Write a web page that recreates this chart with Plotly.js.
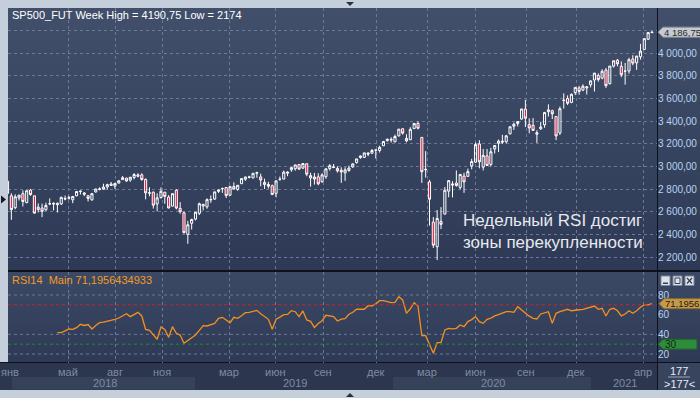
<!DOCTYPE html>
<html><head><meta charset="utf-8">
<script src="https://cdn.plot.ly/plotly-3.0.1.min.js"></script>
<style>
html,body{margin:0;padding:0;background:#c5cfdb;}
#wrap{position:relative;width:700px;height:398px;overflow:hidden;background:#c5cfdb;}
.bg{position:absolute;}
#chart{position:absolute;left:0;top:0;width:700px;height:398px;}
</style></head><body>
<div id="wrap">
 <div class="bg" style="left:8px;top:8px;width:692px;height:262px;background:linear-gradient(#414f6b,#2e3a55);"></div>
 <div class="bg" style="left:8px;top:270px;width:692px;height:2px;background:#0c111c;"></div>
 <div class="bg" style="left:8px;top:272px;width:692px;height:91px;background:linear-gradient(#3c4965,#2e3a55);"></div>
 <div class="bg" style="left:0;top:362px;width:700px;height:1px;background:#0c111c;"></div>
 <div class="bg" style="left:0;top:363px;width:657px;height:27px;background:#2c374f;"></div>
 <div class="bg" style="left:658px;top:363px;width:42px;height:27px;background:#38445e;"></div>
 <div class="bg" style="left:657px;top:8px;width:1px;height:382px;background:#0c111c;"></div>
 <div id="chart"></div>
</div>
<script>
const dates = [
'2018-01-22','2018-01-29','2018-02-05','2018-02-12','2018-02-19','2018-02-26','2018-03-05','2018-03-12','2018-03-19','2018-03-26',
'2018-04-02','2018-04-09','2018-04-16','2018-04-23','2018-04-30','2018-05-07','2018-05-14','2018-05-21','2018-05-28','2018-06-04',
'2018-06-11','2018-06-18','2018-06-25','2018-07-02','2018-07-09','2018-07-16','2018-07-23','2018-07-30','2018-08-06','2018-08-13',
'2018-08-20','2018-08-27','2018-09-03','2018-09-10','2018-09-17','2018-09-24','2018-10-01','2018-10-08','2018-10-15','2018-10-22',
'2018-10-29','2018-11-05','2018-11-12','2018-11-19','2018-11-26','2018-12-03','2018-12-10','2018-12-17','2018-12-24','2018-12-31',
'2019-01-07','2019-01-14','2019-01-21','2019-01-28','2019-02-04','2019-02-11','2019-02-18','2019-02-25','2019-03-04','2019-03-11',
'2019-03-18','2019-03-25','2019-04-01','2019-04-08','2019-04-15','2019-04-22','2019-04-29','2019-05-06','2019-05-13','2019-05-20',
'2019-05-27','2019-06-03','2019-06-10','2019-06-17','2019-06-24','2019-07-01','2019-07-08','2019-07-15','2019-07-22','2019-07-29',
'2019-08-05','2019-08-12','2019-08-19','2019-08-26','2019-09-02','2019-09-09','2019-09-16','2019-09-23','2019-09-30','2019-10-07',
'2019-10-14','2019-10-21','2019-10-28','2019-11-04','2019-11-11','2019-11-18','2019-11-25','2019-12-02','2019-12-09','2019-12-16',
'2019-12-23','2019-12-30','2020-01-06','2020-01-13','2020-01-20','2020-01-27','2020-02-03','2020-02-10','2020-02-17','2020-02-24',
'2020-03-02','2020-03-09','2020-03-16','2020-03-23','2020-03-30','2020-04-06','2020-04-13','2020-04-20','2020-04-27','2020-05-04',
'2020-05-11','2020-05-18','2020-05-25','2020-06-01','2020-06-08','2020-06-15','2020-06-22','2020-06-29','2020-07-06','2020-07-13',
'2020-07-20','2020-07-27','2020-08-03','2020-08-10','2020-08-17','2020-08-24','2020-08-31','2020-09-07','2020-09-14','2020-09-21',
'2020-09-28','2020-10-05','2020-10-12','2020-10-19','2020-10-26','2020-11-02','2020-11-09','2020-11-16','2020-11-23','2020-11-30',
'2020-12-07','2020-12-14','2020-12-21','2020-12-28','2021-01-04','2021-01-11','2021-01-18','2021-01-25','2021-02-01','2021-02-08',
'2021-02-15','2021-02-22','2021-03-01','2021-03-08','2021-03-15','2021-03-22','2021-03-29','2021-04-05','2021-04-12','2021-04-19'];

const openP = [
2810,2870,2741,2636,2722,2760,2681,2791,2741,2619,
2633,2617,2670,2675,2675,2669,2718,2725,2706,2741,
2783,2766,2742,2705,2775,2798,2800,2819,2845,2827,
2853,2884,2897,2880,2903,2926,2926,2886,2764,2773,
2669,2726,2773,2730,2650,2790,2630,2591,2400,2498,
2535,2586,2651,2644,2705,2712,2780,2805,2814,2747,
2823,2798,2848,2888,2908,2898,2940,2908,2840,2841,
2830,2763,2886,2889,2951,2971,2980,3017,2986,3024,
2898,2907,2908,2866,2910,2981,2996,2983,2967,2944,
2965,2996,3035,3079,3080,3118,3117,3143,3141,3183,
3227,3240,3218,3271,3333,3248,3236,3335,3380,3257,
2975,2864,2509,2291,2515,2579,2782,2846,2854,2815,
2915,2913,3005,3038,3199,2994,3094,3018,3155,3205,
3224,3219,3288,3356,3380,3419,3507,3370,3363,3285,
3333,3368,3500,3493,3441,3296,3583,3600,3566,3653,
3694,3675,3694,3723,3764,3803,3781,3851,3731,3886,
3939,3885,3842,3844,3949,3916,3969,4034,4124,4183];

const highP = [
2878,2872,2763,2754,2747,2789,2786,2802,2742,2674,
2672,2680,2718,2683,2682,2732,2743,2742,2740,2779,
2789,2774,2743,2760,2804,2816,2848,2848,2863,2855,
2877,2916,2900,2908,2941,2940,2940,2894,2816,2779,
2763,2815,2775,2747,2760,2800,2685,2601,2520,2538,
2598,2681,2671,2718,2744,2776,2794,2814,2817,2830,
2860,2836,2893,2910,2918,2940,2954,2937,2892,2865,
2840,2876,2911,2964,2958,2996,3014,3018,3028,3027,
2945,2943,2939,2940,2985,3021,3022,3002,2993,2993,
3008,3027,3067,3097,3121,3127,3154,3150,3183,3226,
3247,3258,3282,3330,3337,3285,3347,3385,3397,3259,
3136,2882,2553,2615,2641,2818,2879,2870,2965,2934,
2945,2981,3068,3211,3233,3155,3155,3165,3187,3238,
3280,3279,3352,3387,3399,3509,3588,3425,3428,3320,
3394,3482,3549,3502,3441,3529,3646,3628,3644,3699,
3712,3726,3711,3760,3826,3823,3859,3870,3887,3934,
3950,3928,3915,3960,3983,3978,4083,4129,4188,4190.75];

const lowP = [
2805,2759,2529,2622,2700,2647,2675,2741,2585,2594,
2553,2610,2660,2612,2594,2660,2701,2707,2676,2737,
2753,2738,2691,2698,2770,2789,2795,2795,2830,2802,
2852,2884,2864,2865,2886,2904,2874,2710,2737,2628,
2604,2716,2670,2631,2649,2621,2583,2408,2317,2443,
2524,2571,2612,2627,2679,2705,2766,2767,2722,2739,
2800,2785,2848,2873,2895,2898,2900,2825,2801,2805,
2750,2728,2874,2887,2914,2953,2963,2970,2977,2914,
2822,2840,2834,2856,2891,2964,2985,2946,2855,2873,
2953,2989,3025,3068,3078,3091,3114,3070,3123,3183,
3222,3212,3214,3264,3281,3214,3234,3332,3328,2855,
2902,2478,2280,2174,2447,2579,2728,2727,2822,2798,
2767,2910,2975,3031,2984,2965,3004,3000,3115,3127,
3200,3204,3284,3323,3354,3414,3349,3293,3313,3209,
3323,3342,3441,3419,3233,3279,3511,3543,3559,3631,
3634,3665,3636,3699,3662,3749,3770,3694,3725,3874,
3885,3789,3723,3820,3894,3853,3944,4034,4118,4178];

const closeP = [
2873,2762,2619,2732,2747,2691,2786,2752,2588,2641,
2604,2656,2670,2669,2663,2728,2713,2721,2735,2779,
2779,2755,2718,2760,2801,2802,2818,2840,2833,2850,
2874,2901,2872,2905,2929,2914,2885,2767,2767,2658,
2723,2781,2736,2633,2760,2633,2600,2416,2485,2532,
2596,2671,2665,2707,2708,2776,2793,2804,2743,2822,
2800,2834,2893,2907,2905,2940,2946,2881,2860,2826,
2752,2873,2887,2950,2942,2990,3014,2977,3026,2932,
2919,2889,2847,2926,2979,3007,2992,2961,2952,2970,
2986,3023,3067,3093,3120,3110,3141,3146,3169,3221,
3240,3235,3265,3330,3295,3226,3328,3380,3338,2954,
2972,2711,2305,2541,2489,2790,2875,2837,2831,2930,
2864,2955,3044,3194,3041,3098,3009,3130,3185,3224,
3216,3271,3351,3373,3397,3508,3427,3341,3319,3298,
3348,3477,3484,3465,3270,3510,3585,3558,3638,3699,
3663,3709,3703,3756,3825,3768,3841,3714,3887,3934,
3907,3811,3842,3943,3913,3975,4019,4129,4183,4186.75];

// RSI(14) weekly, from the 15th bar on
const rsiValues = [
41.7,41.7,43.5,45.4,45,46.8,50.2,49,50,45.4,
49,51.9,52.5,53.2,54.5,55.3,56.6,59,61,58,
60.5,62.4,58.7,45,44,39,35,47.5,45,37,
47.8,41,39.3,30.9,33.5,36,39.3,44,48.8,48.5,
50,51.2,56.3,57.3,54.5,51.8,57.3,56.3,59,62,
62.3,63.5,64.4,61,58,55.3,45.1,55.3,57.5,60,
60.3,64,63,58,63.8,54.6,53.2,47.1,51,53.9,
59.4,58.5,58,53.6,55.5,56,60.4,62.5,65.5,65.5,
65.5,69.1,69.1,71,74.2,74.2,73,72.2,72.5,78.3,
75,61.4,66,72.2,68.8,38.6,38.6,30,20.7,31.5,
31.5,44.4,46.1,45.5,46.1,49.5,47.8,53,55,58,
52.9,51.2,55.3,56.5,58.7,60,61.4,63,63,62.4,
68.1,65,61.4,58.5,56.3,55.6,60.7,61.5,63,51.2,
61.4,63,64.5,65.5,64,64.8,65,65.5,66.5,67.5,
68.8,65.5,66.5,58.7,65.5,66.5,64,58.7,60.7,64,
61.4,64,67.5,69.9,69.9,71.2];
const rsiDates = dates.slice(dates.length - rsiValues.length);

const priceTicks = [2200,2400,2600,2800,3000,3200,3400,3600,3800,4000,4200];
const priceTickText = ['2 200,00','2 400,00','2 600,00','2 800,00','3 000,00','3 200,00','3 400,00','3 600,00','3 800,00','4 000,00',''];
const rsiTicks = [20,40,60,80];
const monthLabels = ['янв','май','авг','ноя','мар','июн','сен','дек','мар','июн','сен','дек','апр'];
const yearLabels = ['2018','2019','2020','2021'];
const lastPrice = 4186.75, lastRsi = 71.1956, rsiOver = 70, rsiUnder = 30;

// ---- layout geometry (pixels) ----
const W=700,H=398;
const px = x => x/W, py = y => (H-y)/H;
const PL=8, PR=657, MT=8, MB=269.5, RT=272, RB=363;
const t0 = Date.UTC(2018,0,22);
const msPerPx = 7*86400000/3.836, x0px = 3.7;
const pxDate = x => new Date(t0 + (x-x0px)*msPerPx).toISOString().slice(0,19).replace('T',' ');
const xRange = [pxDate(PL), pxDate(PR)];
const monthPx = [9.5,68,115,162,229,275,323,376,427,475,526,576,643];
const gridDates = monthPx.slice(1).map(pxDate);
const yearPx = [105,295,493,625];

const GRID='#6c7a96';
const axisFont = {family:'Liberation Sans, Arial, sans-serif', size:10, color:'#b9d3f2'};

const traces = [
 {type:'candlestick', x:dates, open:openP, high:highP, low:lowP, close:closeP,
  xaxis:'x', yaxis:'y', whiskerwidth:0, hoverinfo:'skip',
  increasing:{line:{color:'#ffffff',width:1}, fillcolor:'rgba(0,0,0,0)'},
  decreasing:{line:{color:'#ffffff',width:1}, fillcolor:'#e3173c'}},
 {type:'scatter', mode:'lines', x:rsiDates, y:rsiValues, xaxis:'x2', yaxis:'y2',
  line:{color:'#f5901e', width:1.3}, hoverinfo:'skip'}
];

const shapes = [];
const annotations = [];
[20,40,80].forEach(v=>shapes.push({type:'line',xref:'paper',yref:'y2',x0:px(PL),x1:px(PR),y0:v,y1:v,line:{color:GRID,width:1,dash:'3px,3px'},layer:'below'}));
shapes.push({type:'line',xref:'paper',yref:'y2',x0:px(PL),x1:px(PR),y0:rsiOver,y1:rsiOver,line:{color:'#d4202c',width:1,dash:'3px,3px'}});
shapes.push({type:'line',xref:'paper',yref:'y2',x0:px(PL),x1:px(PR),y0:rsiUnder,y1:rsiUnder,line:{color:'#1d8f2e',width:1,dash:'3px,3px'}});
[[12,195],[393,591]].forEach(b=>shapes.push({type:'rect',xref:'paper',yref:'paper',x0:px(b[0]),x1:px(b[1]),y0:py(389.5),y1:py(377),fillcolor:'#364259',line:{width:0},layer:'below'}));
shapes.push({type:'path',xref:'paper',yref:'y',xsizemode:'pixel',ysizemode:'pixel',xanchor:px(657),yanchor:lastPrice,
  path:'M 1 0 L 6 5 L 44 5 L 44 -5 L 6 -5 Z',fillcolor:'#c6cad1',line:{color:'#8a9099',width:1}});
annotations.push({xref:'paper',yref:'y',x:px(662),y:lastPrice,xanchor:'left',yanchor:'middle',showarrow:false,text:'4 186,75',font:{family:'Liberation Sans, Arial',size:9.5,color:'#2a2a2a'}});
shapes.push({type:'path',xref:'paper',yref:'y2',xsizemode:'pixel',ysizemode:'pixel',xanchor:px(659),yanchor:lastRsi,
  path:'M 0 0 L 5 5 L 44 5 L 44 -5 L 5 -5 Z',fillcolor:'#c79a4a',line:{color:'#8c6a2c',width:1}});
annotations.push({xref:'paper',yref:'y2',x:px(663),y:lastRsi,xanchor:'left',yanchor:'middle',showarrow:false,text:'71,1956',font:{family:'Liberation Sans, Arial',size:9.5,color:'#1e1a10'}});
shapes.push({type:'path',xref:'paper',yref:'y2',xsizemode:'pixel',ysizemode:'pixel',xanchor:px(658),yanchor:rsiUnder,
  path:'M 0 0 L 5 5 L 39 5 L 39 -5 L 5 -5 Z',fillcolor:'#2f8c3c',line:{color:'#1e5e28',width:1}});
annotations.push({xref:'paper',yref:'y2',x:px(663),y:rsiUnder,xanchor:'left',yanchor:'middle',showarrow:false,text:'30',font:{family:'Liberation Sans, Arial',size:10,color:'#0f2a12'}});
[[661,670],[673,682],[685,694]].forEach(b=>shapes.push({type:'rect',xref:'paper',yref:'paper',x0:px(b[0]),x1:px(b[1]),y0:py(285.5),y1:py(276),fillcolor:'#dde2ea',line:{color:'#7d889c',width:1}}));
shapes.push({type:'rect',xref:'paper',yref:'paper',x0:px(663),x1:px(668),y0:py(284),y1:py(282.5),fillcolor:'#3a4050',line:{width:0}});
shapes.push({type:'rect',xref:'paper',yref:'paper',x0:px(675),x1:px(680),y0:py(283.5),y1:py(278),fillcolor:'rgba(0,0,0,0)',line:{color:'#3a4050',width:1}});
shapes.push({type:'line',xref:'paper',yref:'paper',x0:px(687),x1:px(692),y0:py(278),y1:py(283.5),line:{color:'#3a4050',width:1.2}});
shapes.push({type:'line',xref:'paper',yref:'paper',x0:px(687),x1:px(692),y0:py(283.5),y1:py(278),line:{color:'#3a4050',width:1.2}});
shapes.push({type:'line',xref:'paper',yref:'paper',x0:px(668),x1:px(690),y0:py(377),y1:py(377),line:{color:'#9aa5b8',width:1}});
shapes.push({type:'path',xref:'paper',yref:'paper',xsizemode:'pixel',ysizemode:'pixel',xanchor:px(350),yanchor:py(4),path:'M -4 2 L 4 2 L 0 -2 Z',fillcolor:'#283042',line:{width:0}});
shapes.push({type:'path',xref:'paper',yref:'paper',xsizemode:'pixel',ysizemode:'pixel',xanchor:px(350),yanchor:py(395),path:'M -4 -2 L 4 -2 L 0 2 Z',fillcolor:'#283042',line:{width:0}});
shapes.push({type:'path',xref:'paper',yref:'paper',xsizemode:'pixel',ysizemode:'pixel',xanchor:px(1),yanchor:py(199.5),path:'M 0 4 L 5 0 L 0 -4 Z',fillcolor:'#141a28',line:{width:0}});

annotations.push({xref:'paper',yref:'paper',x:px(10),y:py(15),xanchor:'left',yanchor:'middle',showarrow:false,
  text:'SP500_FUT Week High = 4190,75 Low = 2174',font:{family:'Liberation Sans, Arial',size:11,color:'#ffffff'}});
annotations.push({xref:'paper',yref:'paper',x:px(10),y:py(280),xanchor:'left',yanchor:'middle',showarrow:false,
  text:'RSI14\u00a0\u00a0Main 71,1956434933',font:{family:'Liberation Sans, Arial',size:11,color:'#f39a24'}});
annotations.push({xref:'paper',yref:'paper',x:px(461),y:py(231),xanchor:'left',yanchor:'middle',align:'left',showarrow:false,
  text:'Недельный RSI достиг<br>зоны перекупленности',font:{family:'Liberation Sans, Arial',size:17,color:'#e6e9ef'}});
monthLabels.forEach((m,i)=>annotations.push({xref:'paper',yref:'paper',x:px(monthPx[i]),y:py(371.5),xanchor:'center',yanchor:'middle',showarrow:false,text:m,font:{family:'Liberation Sans, Arial',size:11,color:'#7e8ba4'}}));
yearLabels.forEach((t,i)=>annotations.push({xref:'paper',yref:'paper',x:px(yearPx[i]),y:py(383),xanchor:'center',yanchor:'middle',showarrow:false,text:t,font:{family:'Liberation Sans, Arial',size:11,color:'#7e8ba4'}}));
annotations.push({xref:'paper',yref:'paper',x:px(679),y:py(370.5),xanchor:'center',yanchor:'middle',showarrow:false,text:'177',font:{family:'Liberation Sans, Arial',size:11,color:'#e8edf4'}});
annotations.push({xref:'paper',yref:'paper',x:px(679),y:py(384),xanchor:'center',yanchor:'middle',showarrow:false,text:'&gt;177&lt;',font:{family:'Liberation Sans, Arial',size:11,color:'#e8edf4'}});

const layout = {
  width:W, height:H, margin:{l:0,r:0,t:0,b:0,pad:0},
  paper_bgcolor:'rgba(0,0,0,0)', plot_bgcolor:'rgba(0,0,0,0)',
  showlegend:false, boxgap:0.22,
  xaxis:{domain:[px(PL),px(PR)], anchor:'y', type:'date', range:xRange, rangeslider:{visible:false},
    tickvals:gridDates, showticklabels:false, ticks:'', showgrid:true, gridcolor:GRID, gridwidth:1, griddash:'3px,3px',
    zeroline:false, showline:false, fixedrange:true},
  yaxis:{domain:[py(MB),py(MT)], anchor:'x', side:'right', range:[2090,4400], tickvals:priceTicks, ticktext:priceTickText,
    tickfont:axisFont, ticks:'', showgrid:true, gridcolor:GRID, gridwidth:1, griddash:'3px,3px', zeroline:false, showline:false},
  xaxis2:{domain:[px(PL),px(PR)], anchor:'y2', type:'date', range:xRange, matches:'x',
    tickvals:gridDates, showticklabels:false, ticks:'', showgrid:true, gridcolor:GRID, gridwidth:1, griddash:'3px,3px',
    zeroline:false, showline:false},
  yaxis2:{domain:[py(RB),py(RT)], anchor:'x2', side:'right', range:[10.85,103.4], tickvals:rsiTicks,
    tickfont:axisFont, ticks:'', showgrid:false, zeroline:false, showline:false},
  shapes:shapes, annotations:annotations
};
Plotly.newPlot('chart', traces, layout, {displayModeBar:false, staticPlot:true});
</script>
</body></html>
